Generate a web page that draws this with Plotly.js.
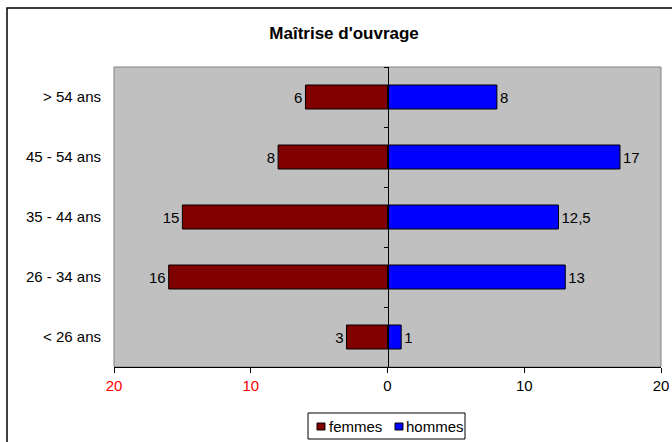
<!DOCTYPE html>
<html>
<head>
<meta charset="utf-8">
<script src="https://cdn.plot.ly/plotly-3.0.1.min.js"></script>
<style>html,body{margin:0;padding:0;background:#fff;}#chart{width:672px;height:442px;}</style>
</head>
<body>
<div id="chart"></div>
<script>
var categories = ['< 26 ans', '26 - 34 ans', '35 - 44 ans', '45 - 54 ans', '> 54 ans'];
var femmes = [3, 16, 15, 8, 6];
var hommes = [1, 13, 12.5, 17, 8];
var seriesNames = ['femmes', 'hommes'];
var seriesColors = ['#800000', '#0000FF'];
var tickValues = [-20, -10, 0, 10, 20];
var tickLabels = ['<span style="color:#FF0000">20</span>', '<span style="color:#FF0000">10</span>', '0', '10', '20'];

function fmt(v) { return String(v).replace('.', ','); }

var FAM = 'Arial, "Liberation Sans", sans-serif';
var font = {family: FAM, size: 15, color: '#000'};

var traces = [
  {
    type: 'bar', orientation: 'h', name: seriesNames[0],
    y: categories, x: femmes.map(function (v) { return -v; }),
    text: femmes.map(fmt), textposition: 'outside', cliponaxis: false,
    textfont: font,
    marker: {color: seriesColors[0], line: {color: '#000', width: 1}},
    xaxis: 'x', yaxis: 'y', hoverinfo: 'none', showlegend: false
  },
  {
    type: 'bar', orientation: 'h', name: seriesNames[1],
    y: categories, x: hommes,
    text: hommes.map(fmt), textposition: 'outside', cliponaxis: false,
    textfont: font,
    marker: {color: seriesColors[1], line: {color: '#000', width: 1}},
    xaxis: 'x', yaxis: 'y2', hoverinfo: 'none', showlegend: false
  }
];

// legend (drawn as a boxed key below the plot)
var legendShapes = [
  {type: 'rect', xref: 'paper', yref: 'paper', x0: 0.3547, x1: 0.6417, y0: -0.24, y1: -0.1533,
   line: {color: '#000', width: 1}, fillcolor: '#FFFFFF'},
  {type: 'rect', xref: 'paper', yref: 'paper', x0: 0.3711, x1: 0.3857, y0: -0.21, y1: -0.1867,
   line: {color: '#000', width: 1}, fillcolor: seriesColors[0]},
  {type: 'rect', xref: 'paper', yref: 'paper', x0: 0.5137, x1: 0.5283, y0: -0.21, y1: -0.1867,
   line: {color: '#000', width: 1}, fillcolor: seriesColors[1]}
];
var legendTexts = [
  {xref: 'paper', yref: 'paper', x: 0.3895, y: -0.1967, xanchor: 'left', yanchor: 'middle',
   text: seriesNames[0], showarrow: false, font: font},
  {xref: 'paper', yref: 'paper', x: 0.5300, y: -0.1967, xanchor: 'left', yanchor: 'middle',
   text: seriesNames[1], showarrow: false, font: font}
];

var layout = {
  width: 672, height: 442,
  margin: {l: 114, r: 11, t: 67, b: 75, pad: 0},
  paper_bgcolor: '#FFFFFF', plot_bgcolor: '#C0C0C0',
  font: font,
  barmode: 'overlay', bargap: 0.6,
  title: {text: "Maîtrise d'ouvrage", font: {family: FAM, size: 17, color: '#000', weight: 'bold'},
          x: 0.512, xref: 'container', xanchor: 'center', y: 0.925, yref: 'container', yanchor: 'middle'},
  xaxis: {
    range: [-20, 20], tickvals: tickValues, ticktext: tickLabels,
    showgrid: false, zeroline: false, showline: true, linecolor: '#000', linewidth: 1,
    ticks: 'outside', ticklen: 5, tickcolor: '#000', tickfont: font, fixedrange: true
  },
  yaxis: {
    type: 'category', categoryorder: 'array', categoryarray: categories, range: [-0.5, 4.5],
    showgrid: false, zeroline: false, showline: false, ticks: '', ticklabelstandoff: 12,
    tickfont: font, fixedrange: true
  },
  yaxis2: {
    type: 'category', categoryorder: 'array', categoryarray: categories, range: [-0.5, 4.5],
    overlaying: 'y', anchor: 'free', position: 0.5, side: 'left',
    showgrid: false, zeroline: false, showline: true, linecolor: '#000', linewidth: 1,
    ticks: 'outside', ticklen: 4, tickcolor: '#000', tickson: 'boundaries',
    showticklabels: false, fixedrange: true
  },
  showlegend: false,
  annotations: legendTexts,
  shapes: [
    {type: 'rect', xref: 'paper', yref: 'paper', x0: 0, x1: 1, y0: 0, y1: 1,
     line: {color: '#808080', width: 1}, layer: 'below'},
    {type: 'rect', xref: 'paper', yref: 'paper', x0: -0.1956, x1: 1.2, y0: -0.5, y1: 1.1967,
     line: {color: '#000', width: 1.5}, fillcolor: 'rgba(0,0,0,0)'}
  ].concat(legendShapes)
};

Plotly.newPlot('chart', traces, layout, {displayModeBar: false, staticPlot: true});
</script>
</body>
</html>
